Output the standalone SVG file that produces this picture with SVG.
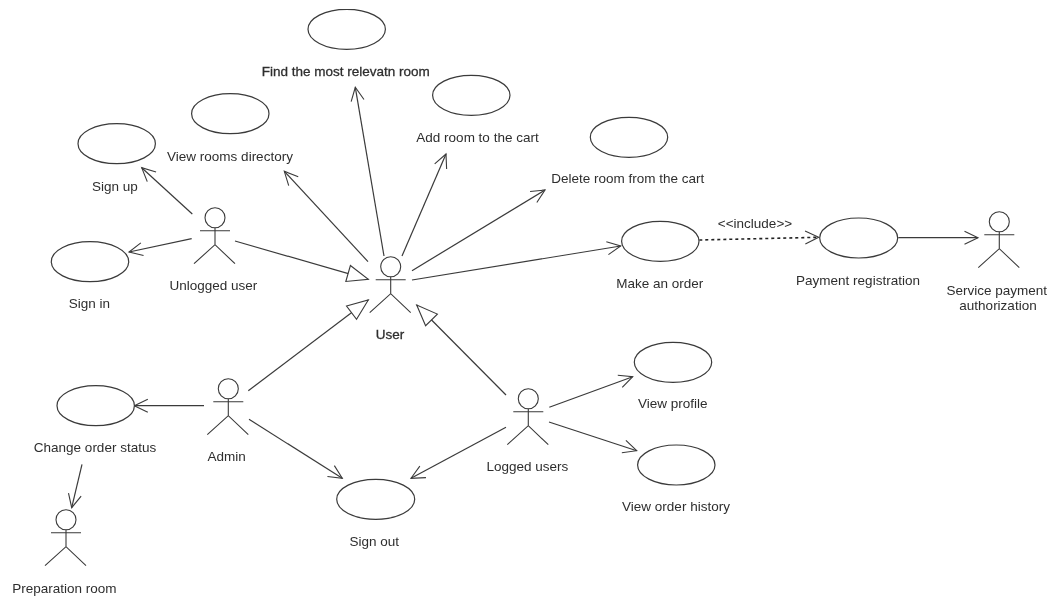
<svg xmlns="http://www.w3.org/2000/svg" width="1053" height="599" viewBox="0 0 1053 599">
<style>
.uc{fill:#fff;stroke:#3a3a3a;stroke-width:1.2}
.a{fill:none;stroke:#3a3a3a;stroke-width:1.1}
.c{fill:none;stroke:#3a3a3a;stroke-width:1.2}
.o{marker-end:url(#open)}
.g{marker-end:url(#gen)}
.d{stroke-dasharray:3 3;stroke:#222;stroke-width:1.6}
text{font-family:"Liberation Sans",Arial,sans-serif;font-size:13.5px;fill:#2e2e2e;text-anchor:middle}
.b{stroke:#2e2e2e;stroke-width:.3}
</style>
<defs>
<filter id="soft" x="0" y="0" width="100%" height="100%"><feGaussianBlur stdDeviation="0.35"/></filter>
<marker id="open" markerUnits="userSpaceOnUse" markerWidth="20" markerHeight="20" refX="15" refY="8" orient="auto"><path d="M1.5 1.5L15 8L1.5 14.500" fill="none" stroke="#3a3a3a" stroke-width="1.1"/></marker>
<marker id="gen" markerUnits="userSpaceOnUse" markerWidth="26" markerHeight="24" refX="23" refY="11" orient="auto"><path d="M2 2.700L23 11L2 19.300Z" fill="#fff" stroke="#3a3a3a" stroke-width="1.1"/></marker>
<g id="actor"><circle cx="0" cy="0" r="10"/><path d="M-15 13H15M0 10V27M-21 46L0 27L20 46"/></g>
</defs>
<rect width="1053" height="599" fill="#fff"/>
<g filter="url(#soft)">
<g id="connectors">
<path class="c o" d="M192.300 214L141.700 167.700"/>
<path class="c o" d="M191.700 238.700L129 252"/>
<path class="c g" d="M235 241L368.300 279.300"/>
<path class="c o" d="M368 261.700L284.300 171.300"/>
<path class="c o" d="M384 256L355.300 87.300"/>
<path class="c o" d="M402 256L446 154"/>
<path class="c o" d="M412 270.700L545 190"/>
<path class="c o" d="M412 280L620.700 246"/>
<path class="c o d" d="M699.300 240L818.700 237.300"/>
<path class="c o" d="M898.300 237.700H978"/>
<path class="c g" d="M248.300 390.700L368.300 300"/>
<path class="c o" d="M204 405.700H134.300"/>
<path class="c o" d="M249 419.300L342.300 478.300"/>
<path class="c o" d="M82 464.300L71.700 507.700"/>
<path class="c g" d="M506 395L416.700 305"/>
<path class="c o" d="M506 427.300L411 478.300"/>
<path class="c o" d="M549.300 407.300L632.700 376.700"/>
<path class="c o" d="M549 422L636.700 450.700"/>
<text x="755" y="228.300">&lt;&lt;include&gt;&gt;</text>
</g>
<g id="uc-find"><ellipse class="uc" cx="346.700" cy="29.300" rx="38.700" ry="20"/><text class="b" x="345.700" y="75.500">Find the most relevatn room</text></g>
<g id="uc-add"><ellipse class="uc" cx="471.300" cy="95.300" rx="38.700" ry="20"/><text x="477.500" y="142.300">Add room to the cart</text></g>
<g id="uc-rooms"><ellipse class="uc" cx="230.300" cy="113.700" rx="38.700" ry="20"/><text x="230" y="160.700">View rooms directory</text></g>
<g id="uc-signup"><ellipse class="uc" cx="116.700" cy="143.700" rx="38.700" ry="20"/><text x="115" y="190.700">Sign up</text></g>
<g id="uc-signin"><ellipse class="uc" cx="90" cy="261.700" rx="38.700" ry="20"/><text x="89.300" y="308">Sign in</text></g>
<g id="uc-delete"><ellipse class="uc" cx="629" cy="137.300" rx="38.700" ry="20"/><text x="627.700" y="183.300">Delete room from the cart</text></g>
<g id="uc-order"><ellipse class="uc" cx="660.300" cy="241.300" rx="38.700" ry="20"/><text x="659.700" y="287.700">Make an order</text></g>
<g id="uc-payment"><ellipse class="uc" cx="858.700" cy="238" rx="39" ry="20"/><text x="858" y="285">Payment registration</text></g>
<g id="uc-status"><ellipse class="uc" cx="95.700" cy="405.700" rx="38.700" ry="20"/><text x="95" y="452">Change order status</text></g>
<g id="uc-signout"><ellipse class="uc" cx="375.700" cy="499.300" rx="39" ry="20"/><text x="374.300" y="545.700">Sign out</text></g>
<g id="uc-profile"><ellipse class="uc" cx="673" cy="362.300" rx="38.700" ry="20"/><text x="672.700" y="408.300">View profile</text></g>
<g id="uc-history"><ellipse class="uc" cx="676.300" cy="465" rx="38.700" ry="20"/><text x="676" y="511.300">View order history</text></g>
<g id="actor-unlogged"><use href="#actor" class="a" x="215" y="217.700"/><text x="213.300" y="290">Unlogged user</text></g>
<g id="actor-user"><use href="#actor" class="a" x="390.700" y="266.700"/><text class="b" x="390" y="338.700">User</text></g>
<g id="actor-service"><use href="#actor" class="a" x="999.300" y="221.700"/><text x="996.700" y="294.700">Service payment</text><text x="998" y="310.300">authorization</text></g>
<g id="actor-admin"><use href="#actor" class="a" x="228.300" y="388.700"/><text x="226.700" y="460.700">Admin</text></g>
<g id="actor-prep"><use href="#actor" class="a" x="66" y="519.700"/><text x="64.300" y="592.700">Preparation room</text></g>
<g id="actor-logged"><use href="#actor" class="a" x="528.300" y="398.700"/><text x="527.300" y="470.700">Logged users</text></g>
</g>
</svg>
